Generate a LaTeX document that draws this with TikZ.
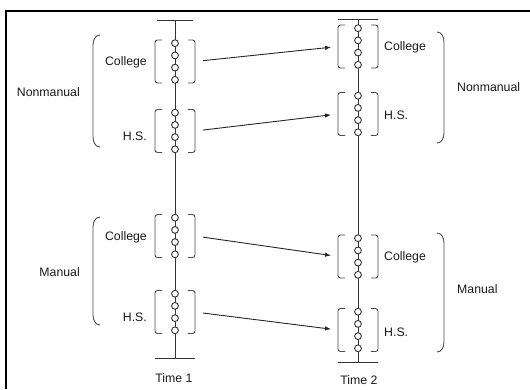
\documentclass[tikz,border=0pt]{standalone}
\usepackage{fontspec}
\setmainfont{Liberation Sans}
\usetikzlibrary{arrows.meta,calc}
\begin{document}
\begin{tikzpicture}[x=1pt,y=-1pt,
  ln/.style={draw=black!80,line width=0.95pt},
  dot/.style={circle,draw=black!80,line width=0.9pt,fill=white,minimum size=6.8pt,inner sep=0pt},
  grp/.style={rectangle,minimum width=40pt,minimum height=43pt,inner sep=0pt,outer sep=0pt},
  brk/.style={draw=black!70,line width=0.9pt,rounded corners=2.5pt},
  brace/.style={draw=black!70,line width=0.9pt},
  lbl/.style={font=\fontsize{12.3}{14}\selectfont,text=black!90,inner sep=0pt},
  arr/.style={draw=black!85,line width=0.9pt,-{Latex[length=6pt,width=4.5pt]},shorten <=8pt,shorten >=7pt}
]
\useasboundingbox (0,0) rectangle (530,389);
% frame
\coordinate (fl) at (6,389); \coordinate (fc) at (6,11); \coordinate (fr) at (530,11);
\draw[black,line width=1.4pt] (fl) -- (fc) -- (fr);

% axes
\coordinate (a1t) at (175,20); \coordinate (a1b) at (175,358);
\coordinate (a2t) at (358,19); \coordinate (a2b) at (358,362);
\draw[ln] (a1t) -- (a1b);
\draw[ln] (a2t) -- (a2b);
\coordinate (k1l) at (157,20); \coordinate (k1r) at (193,20);
\coordinate (k2l) at (155,358); \coordinate (k2r) at (195,358);
\coordinate (k3l) at (338,19); \coordinate (k3r) at (378,19);
\coordinate (k4l) at (338,362); \coordinate (k4r) at (378,362);
\draw[ln] (k1l) -- (k1r);
\draw[ln] (k2l) -- (k2r);
\draw[ln] (k3l) -- (k3r);
\draw[ln] (k4l) -- (k4r);

% groups
\foreach \n/\x/\y in {g1/175/61.5, g2/175/131, g3/175/236, g4/175/312,
                      h1/358/46.5, h2/358/114, h3/358/256.5, h4/358/330}{
  \node[grp] (\n) at (\x,\y) {};
  \foreach \i in {1,...,4}{
    \node[dot] (\n-\i) at ($(\n.center)+(0,{(\i-2.5)*12.2})$) {};
  }
  \draw[brk] ($(\n.north west)+(7,0)$) -- (\n.north west) -- (\n.south west) -- ($(\n.south west)+(7,0)$);
  \draw[brk] ($(\n.north east)+(-7,0)$) -- (\n.north east) -- (\n.south east) -- ($(\n.south east)+(-7,0)$);
}

% arrows
\draw[arr] (g1.east) -- (h1.west);
\draw[arr] (g2.east) -- (h2.west);
\draw[arr] (g3.east) -- (h3.west);
\draw[arr] (g4.east) -- (h4.west);

% group labels
\node[lbl,anchor=east] (l1) at (147,62) {College};
\node[lbl,anchor=east] (l2) at (147,136) {H.S.};
\node[lbl,anchor=east] (l3) at (147,237) {College};
\node[lbl,anchor=east] (l4) at (147,317) {H.S.};
\node[lbl,anchor=west] (r1) at (384,47) {College};
\node[lbl,anchor=west] (r2) at (384,115) {H.S.};
\node[lbl,anchor=west] (r3) at (384,257) {College};
\node[lbl,anchor=west] (r4) at (384,332) {H.S.};

% braces
\draw[brace] (100,35) to[out=180,in=90] (93,45) -- (93,137) to[out=-90,in=180] (100,147);
\draw[brace] (100,217) to[out=180,in=90] (93,227) -- (93,315) to[out=-90,in=180] (100,325);
\draw[brace] (437,32) to[out=0,in=90] (444,42) -- (444,133) to[out=-90,in=0] (437,143);
\draw[brace] (437,233) to[out=0,in=90] (444,243) -- (444,342) to[out=-90,in=0] (437,352);

% class labels
\node[lbl,anchor=east] (cl1) at (80,92) {Nonmanual};
\node[lbl,anchor=east] (cl2) at (80,272) {Manual};
\node[lbl,anchor=west] (cr1) at (457,87) {Nonmanual};
\node[lbl,anchor=west] (cr2) at (457,289) {Manual};

% time labels
\node[lbl] (t1) at (174,378) {Time 1};
\node[lbl] (t2) at (359,380) {Time 2};
\end{tikzpicture}
\end{document}
